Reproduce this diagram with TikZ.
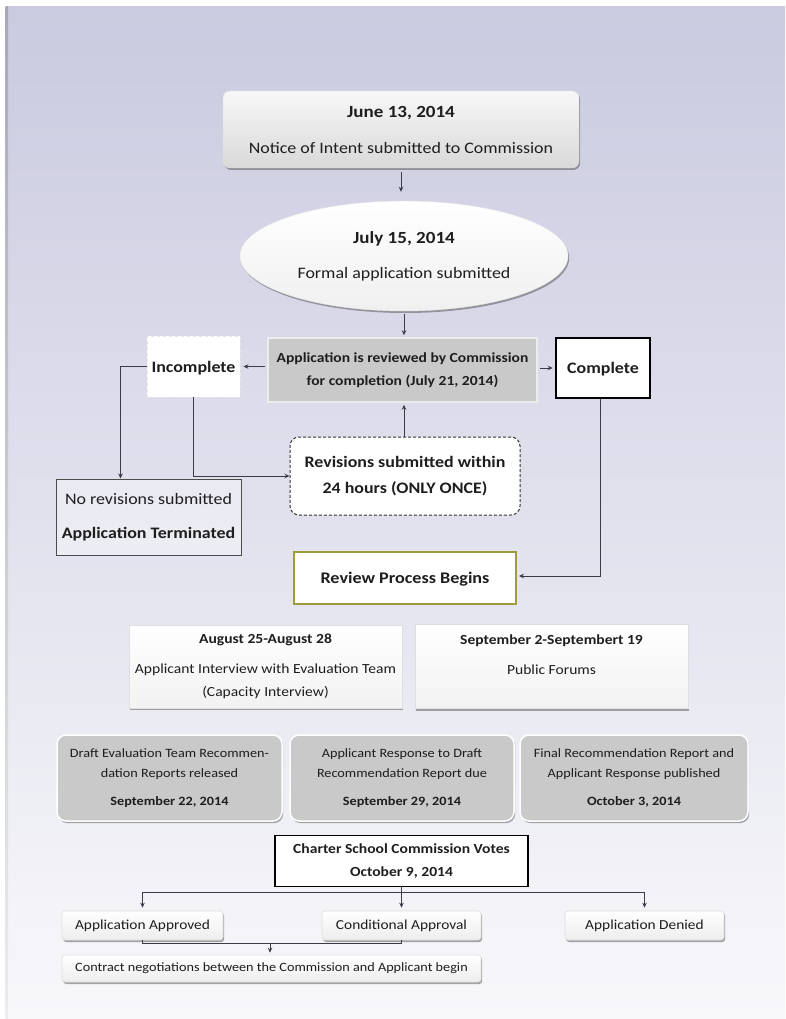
\documentclass[tikz,border=0pt]{standalone}
\usepackage{fontspec}
\setmainfont{Carlito}[FakeStretch=1.12]
\usetikzlibrary{shapes.geometric,shadows,arrows.meta,calc}
\definecolor{bgtop}{HTML}{CACAE0}
\definecolor{bgmid}{HTML}{DDDDEB}
\definecolor{bgbot}{HTML}{F8F8FB}
\definecolor{txt}{HTML}{1E1E1E}
\definecolor{lin}{HTML}{3C3C48}
\definecolor{olivebd}{HTML}{9E9C3E}
\definecolor{boxgray}{HTML}{C9C9C9}
\newcommand{\fsz}[2]{\fontsize{#1}{#2}\selectfont}
\tikzset{
  every node/.style={text=txt, align=center, inner sep=0pt},
  conn/.style={draw=lin, line width=0.9pt},
  arr/.style={conn, -{Stealth[length=5pt,width=4.5pt]}},
  shad/.style={drop shadow={shadow xshift=1.2pt, shadow yshift=-2pt, opacity=0.45, fill=black!75}},
  topbox/.style={rectangle, rounded corners=7pt, top color=gray!6, bottom color=gray!30, draw=gray!25, shad},
  ovalbox/.style={ellipse, top color=white, bottom color=gray!12, draw=gray!20, shad},
  graybox/.style={rectangle, fill=boxgray, draw=gray!15, line width=1.5pt},
  whitedash/.style={rectangle, fill=white, draw=gray!20, dashed, line width=0.8pt},
  thickbox/.style={rectangle, fill=white, draw=black, line width=2.5pt},
  termbox/.style={rectangle, fill=white, fill opacity=0.35, text opacity=1, draw=gray!60!black, line width=1pt},
  revbox/.style={rectangle, rounded corners=9pt, fill=white, draw=black!80, dash pattern=on 3pt off 2pt, line width=1pt},
  beginbox/.style={rectangle, fill=white, draw=olivebd, line width=2pt},
  lightbox/.style={rectangle, top color=white, bottom color=gray!10, draw=gray!25, line width=0.6pt, shad},
  draftbox/.style={rectangle, rounded corners=9pt, fill=boxgray, draw=white, line width=1.5pt, shad},
  votebox/.style={rectangle, fill=white, draw=black, line width=1.8pt},
  smallbox/.style={rectangle, rounded corners=3pt, top color=white, bottom color=gray!14, draw=gray!25, line width=0.6pt, shad}
}
\begin{document}
\begin{tikzpicture}[x=1pt,y=-1pt]
\useasboundingbox (0,0) rectangle (785,1019);
\fill[white] (0,0) rectangle (785,1019);
\shade[top color=bgtop, middle color=bgmid, bottom color=bgbot] (8,7) rectangle (785,1019);
\shade[top color=gray!45!bgtop, bottom color=gray!15] (5.5,7) rectangle (8,1019);

% nodes
\node[topbox, minimum width=356pt, minimum height=77pt, font=\fsz{16}{18}] (intent) at (401,129.5)
  {\fsz{17}{18}\bfseries June 13, 2014\\[18pt]
   Notice of Intent submitted to Commission};
\node[ovalbox, minimum width=328pt, minimum height=110pt, font=\fsz{16}{18}] (apply) at (404,256)
  {\fsz{17}{18}\bfseries July 15, 2014\\[17pt]
   Formal application submitted};
\node[graybox, minimum width=269pt, minimum height=64pt, font=\fsz{13.9}{16}\bfseries] (review) at (402.5,370)
  {Application is reviewed by Commission\\[7pt]
   for completion (July 21, 2014)};
\node[whitedash, minimum width=93pt, minimum height=61pt, text depth=0pt, font=\fsz{16}{18}\bfseries] (incomplete) at (193.5,366.5)
  {Incomplete};
\node[thickbox, minimum width=94pt, minimum height=60pt, text depth=0pt, font=\fsz{16}{18}\bfseries] (complete) at (603,368)
  {Complete};
\node[termbox, minimum width=185pt, minimum height=76pt, font=\fsz{16}{18}] (termin) at (148.5,517)
  {No revisions submitted\\[16pt]
   \bfseries Application Terminated};
\node[revbox, minimum width=230pt, minimum height=78pt, font=\fsz{16}{18}\bfseries] (revis) at (405,476)
  {Revisions submitted within\\[8pt]
   24 hours (ONLY ONCE)};
\node[beginbox, minimum width=222pt, minimum height=52pt, text depth=0pt, font=\fsz{16.2}{18}\bfseries] (begins) at (405,578)
  {Review Process Begins};

\node[lightbox, minimum width=273pt, minimum height=83pt, font=\fsz{13.9}{16}] (aug) at (265.5,666.5)
  {\bfseries August 25-August 28\\[14pt]
   Applicant Interview with Evaluation Team\\[7pt]
   (Capacity Interview)};
\node[lightbox, minimum width=273pt, minimum height=84pt, font=\fsz{13.9}{16}] (sept) at (551.5,666.5)
  {\bfseries September 2-Septembert 19\\[14pt]
   Public Forums\\[7pt]\mbox{}};

\node[draftbox, minimum width=225pt, minimum height=86pt, font=\fsz{12.7}{15}] (draft) at (169.5,778)
  {Draft Evaluation Team Recommen-\\[5pt]
   dation Reports released\\[13pt]
   \bfseries September 22, 2014};
\node[draftbox, minimum width=224pt, minimum height=86pt, font=\fsz{12.7}{15}] (respond) at (402,778)
  {Applicant Response to Draft\\[5pt]
   Recommendation Report due\\[13pt]
   \bfseries September 29, 2014};
\node[draftbox, minimum width=228pt, minimum height=86pt, font=\fsz{12.7}{15}] (final) at (634,778)
  {Final Recommendation Report and\\[5pt]
   Applicant Response published\\[13pt]
   \bfseries October 3, 2014};

\node[votebox, minimum width=253pt, minimum height=51pt, font=\fsz{13.9}{16}\bfseries] (votes) at (401.5,861)
  {Charter School Commission Votes\\[7pt]
   October 9, 2014};

\node[smallbox, minimum width=161pt, minimum height=29pt, font=\fsz{13.75}{16}] (approved) at (142.5,925.5)
  {Application Approved};
\node[smallbox, minimum width=159pt, minimum height=29pt, font=\fsz{13.75}{16}] (conditional) at (401.5,925.5)
  {Conditional Approval};
\node[smallbox, minimum width=159pt, minimum height=29pt, font=\fsz{13.75}{16}] (denied) at (644.5,925.5)
  {Application Denied};
\node[smallbox, minimum width=419pt, minimum height=27pt, font=\fsz{12.7}{16}] (contract) at (271.5,968.5)
  {Contract negotiations between the Commission and Applicant begin};

% connectors
\draw[arr, shorten <=4pt, shorten >=9pt] (intent.south) -- (intent.south |- apply.north);
\draw[arr, shorten <=3pt, shorten >=2pt] (apply.south) -- (apply.south |- review.north);
\draw[arr, shorten <=2pt, shorten >=3pt] (review.west |- incomplete) -- (incomplete.east);
\draw[arr, shorten <=2pt, shorten >=2pt] (review.east |- complete) -- (complete.west);
\draw[arr] (incomplete.west) -| ([xshift=-28pt]termin.north);
\draw[arr] (incomplete.south) |- (revis.west);
\draw[arr, shorten >=2pt] ([xshift=-1pt]revis.north) -- ([xshift=-1pt]revis.north |- review.south);
\draw[arr, shorten >=2pt] ([xshift=-3pt]complete.south) |- ([yshift=2pt]begins.east);

\coordinate (split) at (401.5,892);
\draw[conn] (votes.south) -- (split);
\draw[conn] (approved.north |- split) -- (denied.north |- split);
\draw[arr, shorten >=3pt] (approved.north |- split) -- (approved.north);
\draw[arr, shorten >=3pt] (split) -- (conditional.north);
\draw[arr, shorten >=3pt] (denied.north |- split) -- (denied.north);
\coordinate (join) at (270,943);
\draw[conn] (approved.south) -- (approved.south |- join) -- (conditional.south |- join) -- (conditional.south);
\draw[arr, shorten >=2pt] (join) -- (join |- contract.north);
\end{tikzpicture}
\end{document}
